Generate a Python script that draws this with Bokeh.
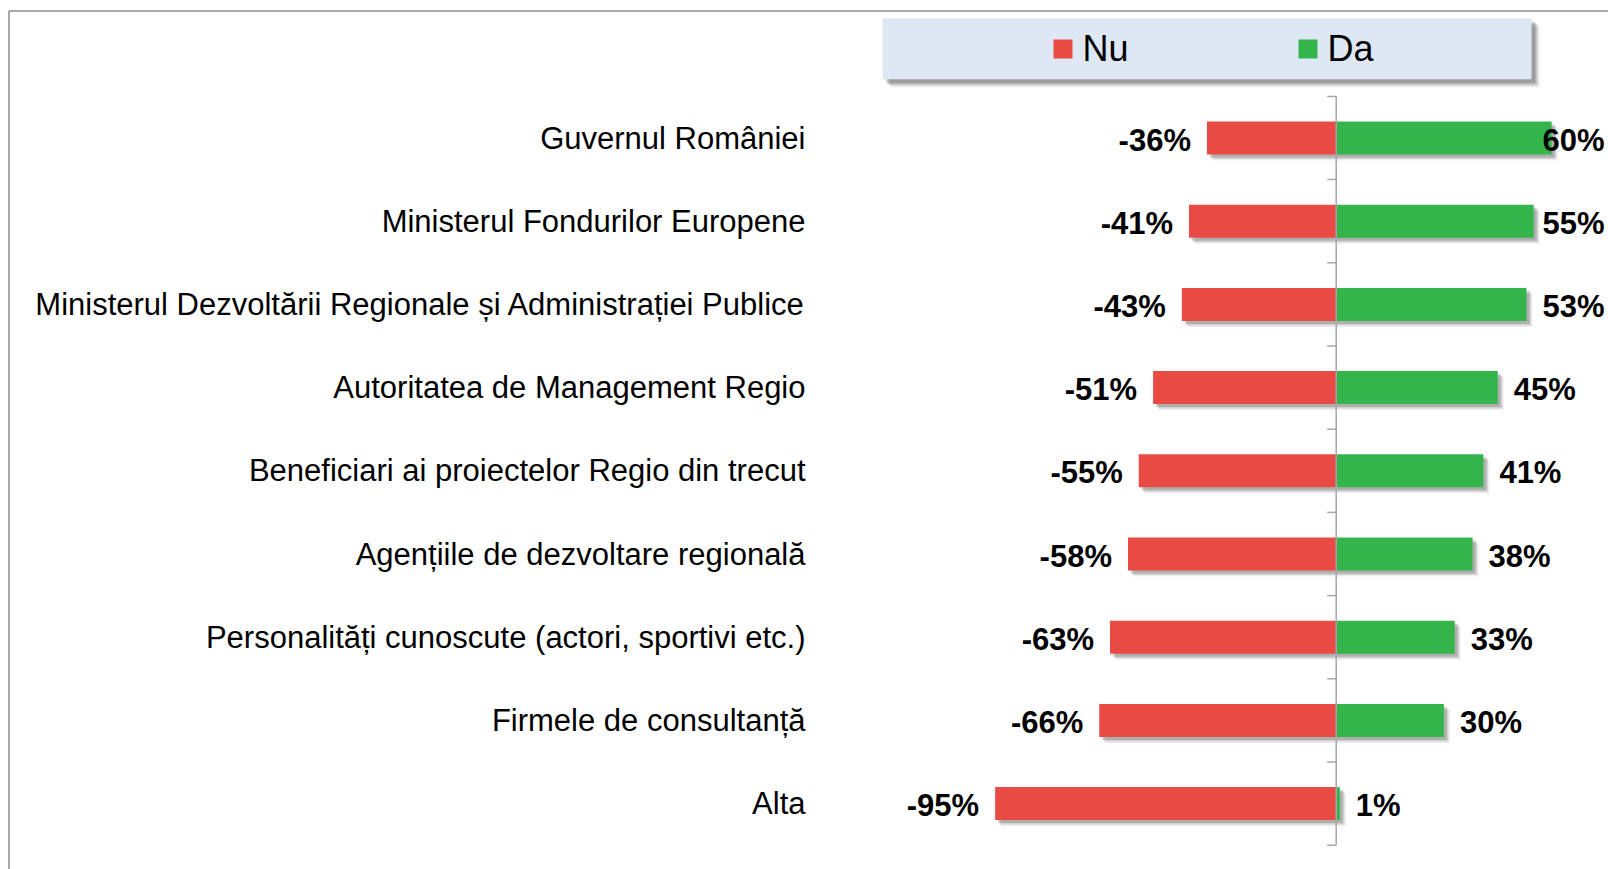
from bokeh.plotting import figure
from bokeh.models import Range1d, ColumnDataSource
from bokeh.core.properties import value
from bokeh.embed import file_html
from bokeh.resources import INLINE

# ---- data ----
categories = [
    "Guvernul României",
    "Ministerul Fondurilor Europene",
    "Ministerul Dezvoltării Regionale și Administrației Publice",
    "Autoritatea de Management Regio",
    "Beneficiari ai proiectelor Regio din trecut",
    "Agențiile de dezvoltare regională",
    "Personalități cunoscute (actori, sportivi etc.)",
    "Firmele de consultanță",
    "Alta",
]
nu_values = [36, 41, 43, 51, 55, 58, 63, 66, 95]
da_values = [60, 55, 53, 45, 41, 38, 33, 30, 1]
series_names = ["Nu", "Da"]
series_colors = ["#E94B44", "#34B54C"]

# ---- layout constants (screen geometry) ----
W, H = 1608, 869
PX_PER_PCT = 3.59
PX_PER_CAT = 83.2
ZERO_PX = 1335.7
FIRST_PX = 137.5

x0 = -ZERO_PX / PX_PER_PCT
x1 = (W - ZERO_PX) / PX_PER_PCT
y_top = -FIRST_PX / PX_PER_CAT
y_bot = (H - FIRST_PX) / PX_PER_CAT


def px_x(px):
    return (px - ZERO_PX) / PX_PER_PCT


def px_y(py):
    return (py - FIRST_PX) / PX_PER_CAT


p = figure(width=W, height=H, output_backend="svg", toolbar_location=None,
           x_range=Range1d(x0, x1), y_range=Range1d(y_bot, y_top),
           x_axis_type=None, y_axis_type=None, min_border=0,
           min_border_left=0, min_border_right=0, min_border_top=0, min_border_bottom=0)
p.outline_line_color = None
p.background_fill_color = "white"
p.border_fill_color = "white"

# chart border (left & top visible)
p.line(x=[px_x(8.5), px_x(8.5)], y=[px_y(10.5), px_y(H)], line_color="#8C8C8C", line_width=1.5)
p.line(x=[px_x(8.5), px_x(W)], y=[px_y(10.5), px_y(10.5)], line_color="#8C8C8C", line_width=1.5)

# legend box with shadow
lx0, lx1, ly0, ly1 = 882, 1531, 17.7, 78.7
for off, a in [(8, 0.12), (6, 0.25), (4, 0.35)]:
    p.quad(left=px_x(lx0 + off), right=px_x(lx1 + off), top=px_y(ly0 + off), bottom=px_y(ly1 + off),
           fill_color="#555555", fill_alpha=a, line_color=None)
p.quad(left=px_x(lx0), right=px_x(lx1), top=px_y(ly0), bottom=px_y(ly1),
       fill_color="#DDE8F4", line_color=None)
leg_sq_x = [1062.5, 1307.5]
for name, col, sx in zip(series_names, series_colors, leg_sq_x):
    p.scatter(x=[px_x(sx)], y=[px_y(48.5)], marker="square", size=19,
              fill_color=col, line_color=None)
    p.text(x=[px_x(sx + 19.5)], y=[px_y(48)], text=[name], text_font=value("Liberation Sans"),
           text_font_size="36px", text_align="left", text_baseline="middle", text_color="black")

# bars
ys = list(range(len(categories)))
src = ColumnDataSource(dict(
    y=ys,
    nu_left=[-v for v in nu_values],
    da_right=da_values,
    zero=[0] * len(ys),
))
bar_h = 33 / PX_PER_CAT

# shadows
for off, a in [(6, 0.10), (4.5, 0.18), (3, 0.28)]:
    p.hbar(y=[y + off / PX_PER_CAT for y in ys], left=[-v + off / PX_PER_PCT for v in nu_values],
           right=[v + off / PX_PER_PCT for v in da_values], height=bar_h,
           fill_color="#555555", fill_alpha=a, line_color=None)

p.hbar(y="y", left="nu_left", right="zero", height=bar_h, source=src,
       fill_color=series_colors[0], line_color=None)
p.hbar(y="y", left="zero", right="da_right", height=bar_h, source=src,
       fill_color=series_colors[1], line_color=None)

# category axis at zero with ticks between categories
n = len(categories)
p.segment(x0=[0], y0=[-0.5], x1=[0], y1=[n - 0.5], line_color="#A6A6A6", line_width=1.5)
bounds = [i - 0.5 for i in range(n + 1)]
p.segment(x0=[-9 / PX_PER_PCT] * len(bounds), y0=bounds, x1=[0] * len(bounds), y1=bounds,
          line_color="#A6A6A6", line_width=1.5)

# category labels
p.text(x=[px_x(805)] * n, y=ys, text=categories, text_font=value("Liberation Sans"),
       text_font_size="31px", text_align="right", text_baseline="middle", text_color="black")

# value labels
nu_text = [f"-{v}%" for v in nu_values]
da_text = [f"{v}%" for v in da_values]
lab_off = 16 / PX_PER_PCT
p.text(x=[-v - lab_off for v in nu_values], y=ys, text=nu_text, y_offset=2,
       text_font=value("Liberation Sans"), text_font_style="bold", text_font_size="31px",
       text_align="right", text_baseline="middle", text_color="black")
da_x = [min(v + lab_off, px_x(W - 66)) for v in da_values]
p.text(x=da_x, y=ys, text=da_text, y_offset=2,
       text_font=value("Liberation Sans"), text_font_style="bold", text_font_size="31px",
       text_align="left", text_baseline="middle", text_color="black")

open("out.html", "w").write(file_html(p, INLINE))
